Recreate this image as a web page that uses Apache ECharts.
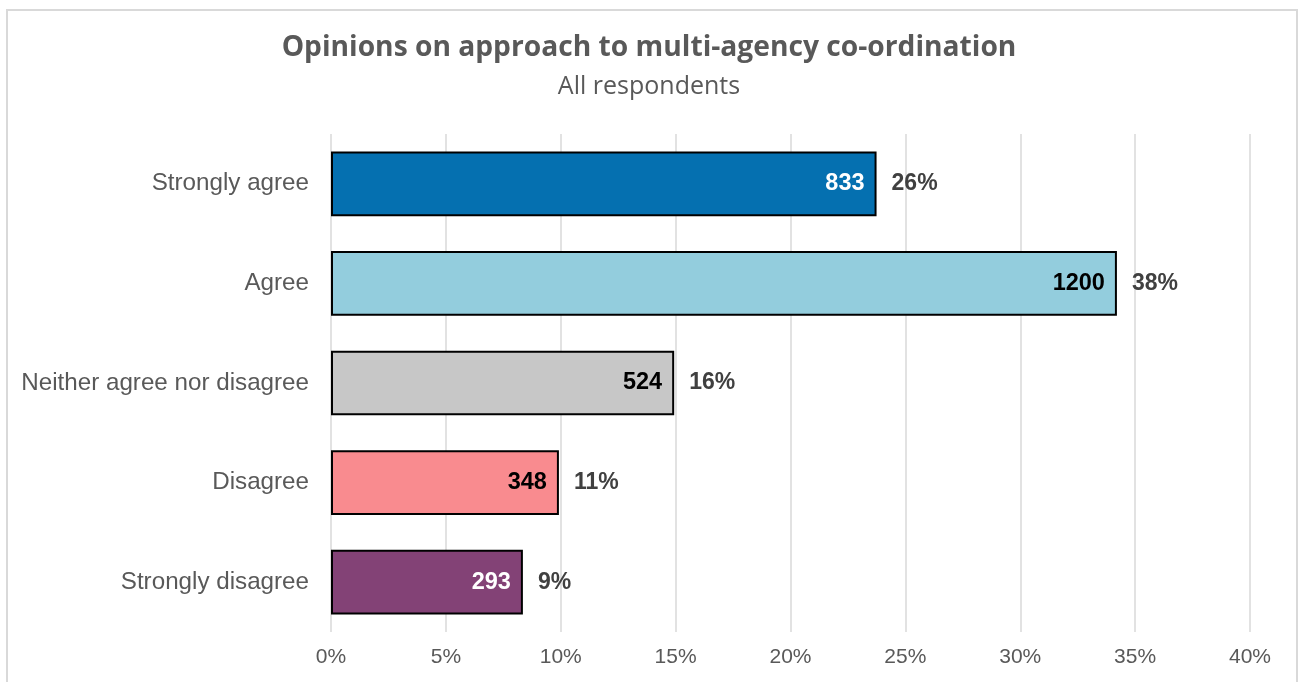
<!DOCTYPE html>
<html>
<head>
<meta charset="utf-8">
<title>Opinions on approach to multi-agency co-ordination</title>
<script src="https://cdn.jsdelivr.net/npm/echarts@6/dist/echarts.min.js"></script>
<style>
  html, body { margin: 0; padding: 0; background: #ffffff; }
  #frame {
    position: absolute; left: 6px; top: 9px; width: 1292px; height: 680px;
    border: 2px solid #d9d9d9; box-sizing: border-box;
  }
  #chart { position: absolute; left: 0; top: 0; width: 1298px; height: 682px; }
</style>
</head>
<body>
<div id="frame"></div>
<div id="chart"></div>
<script>
// Survey responses
const categories = ['Strongly agree', 'Agree', 'Neither agree nor disagree', 'Disagree', 'Strongly disagree'];
const counts = [833, 1200, 524, 348, 293];
const percentLabels = ['26%', '38%', '16%', '11%', '9%'];
const barColors = ['#0570b0', '#93cddd', '#c7c7c7', '#f98b8f', '#834276'];
const countLabelColors = ['#ffffff', '#000000', '#000000', '#000000', '#ffffff'];
const respondentBase = 3508;
const xTicks = [0, 5, 10, 15, 20, 25, 30, 35, 40];

// bar length = share of all respondents, in percent
const shares = counts.map(c => c / respondentBase * 100);

const chart = echarts.init(document.getElementById('chart'), null, { renderer: 'canvas' });

const option = {
  backgroundColor: 'transparent',
  animation: false,
  title: {
    text: 'Opinions on approach to multi-agency co-ordination',
    subtext: 'All respondents',
    left: 'center',
    top: 29,
    itemGap: 12,
    textStyle: { fontFamily: 'Open Sans', fontWeight: 'bold', fontSize: 28.2, color: '#595959' },
    subtextStyle: { fontFamily: 'Open Sans', fontSize: 25, color: '#595959' }
  },
  grid: { left: 331, right: 48, top: 134, bottom: 50, containLabel: false },
  xAxis: {
    type: 'value',
    min: xTicks[0],
    max: xTicks[xTicks.length - 1],
    interval: 5,
    axisLine: { show: false },
    axisTick: { show: false },
    axisLabel: {
      formatter: v => v + '%',
      margin: 15,
      fontFamily: 'Liberation Sans, Arial',
      fontSize: 21,
      color: '#595959'
    },
    splitLine: { show: true, lineStyle: { color: '#d9d9d9', width: 1.5 } }
  },
  yAxis: {
    type: 'category',
    data: categories,
    inverse: true,
    axisLine: { show: false },
    axisTick: { show: false },
    axisLabel: {
      margin: 22,
      fontFamily: 'Liberation Sans, Arial',
      fontSize: 24.2,
      color: '#595959'
    }
  },
  series: [
    {
      type: 'bar',
      barCategoryGap: '35%',
      data: shares.map((v, i) => ({
        value: v,
        itemStyle: { color: barColors[i], borderColor: '#000000', borderWidth: 2 },
        label: { color: countLabelColors[i] }
      })),
      label: {
        show: true,
        position: 'insideRight',
        distance: 12,
        formatter: p => String(counts[p.dataIndex]),
        fontFamily: 'Liberation Sans, Arial',
        fontWeight: 'bold',
        fontSize: 23.5
      },
      z: 2
    },
    {
      type: 'bar',
      barGap: '-100%',
      barCategoryGap: '35%',
      data: shares,
      itemStyle: { color: 'rgba(0,0,0,0)' },
      label: {
        show: true,
        position: 'right',
        distance: 15,
        formatter: p => percentLabels[p.dataIndex],
        fontFamily: 'Liberation Sans, Arial',
        fontWeight: 'bold',
        fontSize: 23,
        color: '#404040'
      },
      silent: true,
      z: 3
    }
  ]
};

chart.setOption(option);
</script>
</body>
</html>
